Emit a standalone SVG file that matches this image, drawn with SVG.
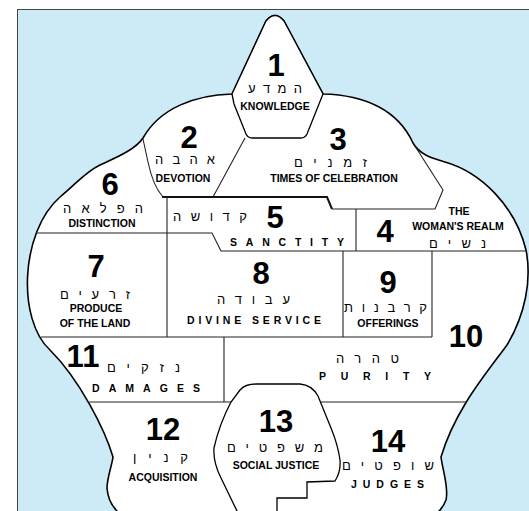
<svg xmlns="http://www.w3.org/2000/svg" width="529" height="511" viewBox="0 0 529 511">
<style>
.num{font-family:"Liberation Sans",Arial,sans-serif;font-weight:bold;font-size:31px;text-anchor:middle;fill:#000}
.lbl{font-family:"Liberation Sans",Arial,sans-serif;font-weight:bold;font-size:10.5px;text-anchor:middle;fill:#000}
.sp{font-family:"Liberation Sans",Arial,sans-serif;font-weight:bold;font-size:10.5px;fill:#000}
.heb{font-family:"Liberation Sans","DejaVu Sans",sans-serif;font-size:13px;fill:#000}
.div{fill:none;stroke:#222;stroke-width:1.1}
.bold{fill:none;stroke:#111;stroke-width:2}
.outer{fill:#fff;stroke:#000;stroke-width:1.6}
.shape{fill:#fff;stroke:#000;stroke-width:1.3}
</style>
<rect x="0" y="0" width="529" height="511" fill="#fff"/>
<rect x="17.5" y="9.5" width="530" height="520" fill="#cdebf6" stroke="#444" stroke-width="1"/>
<path class="outer" d="M117,520 L117,511 Q108,502 107,488 C107,478 112,465 113,457 C105,430 80,380 50,350 C17,320 20,232 60,197 C75,185 85,172 100,165 C115,158 135,150 143,138 C160,108 195,95 232,94 L266,21 Q275,10 284,21 L323,94 C365,95 398,110 413,143 C420,155 432,158 445,162 C480,172 515,205 526,250 C532,280 525,315 507,345 C485,375 455,410 441,457 C443,472 449,488 446,500 Q443,508 437,513 L437,520 Z"/>
<g id="connectors">
<path class="div" d="M143,139 L148,162 Q153,186 163,197"/>
<path class="div" d="M245,138 L213,197"/>
<path class="bold" d="M162,197 L327,197 L332,209"/>
<path class="div" d="M332,209 L435,209 L443,190 L413,143"/>
<path class="div" d="M36,233 L167,233"/>
<path class="div" d="M167,197 L167,337"/>
<path class="div" d="M167,233 L212,233 L221,251 L527,251"/>
<path class="div" d="M356,209 L356,251"/>
<path class="div" d="M343,251 L343,337"/>
<path class="div" d="M432,251 L432,337"/>
<path class="div" d="M41,337 L432,337"/>
<path class="div" d="M224,337 L224,402"/>
<path class="div" d="M89,402 L233,402"/>
<path class="div" d="M319,402 L466,402"/>
</g>
<g id="n1">
<path class="shape" d="M232,94 L266,21 Q275,10 284,21 L323,94 L319,104 L307,134 Q305,138 301,138 L252,138 Q248,138 246,134 L234,104 Z"/>
<text class="num" x="276" y="76">1</text>
<text class="heb" x="248" y="93" textLength="54" lengthAdjust="spacing">המדע</text>
<text class="lbl" x="275" y="110">KNOWLEDGE</text>
</g>
<g id="n2">
<text class="num" x="189" y="148">2</text>
<text class="heb" x="155" y="164" textLength="60" lengthAdjust="spacing">אהבה</text>
<text class="lbl" x="183" y="182">DEVOTION</text>
</g>
<g id="n3">
<text class="num" x="338" y="150">3</text>
<text class="heb" x="294" y="167" textLength="73" lengthAdjust="spacing">זמנים</text>
<text class="lbl" x="334" y="182">TIMES OF CELEBRATION</text>
</g>
<g id="n4">
<text class="num" x="385" y="242">4</text>
<text class="lbl" x="459" y="215">THE</text>
<text class="lbl" x="458" y="230">WOMAN'S REALM</text>
<text class="heb" x="429" y="248" textLength="57" lengthAdjust="spacing">נשים</text>
</g>
<g id="n5">
<text class="num" x="275" y="228">5</text>
<text class="heb" x="173" y="221" textLength="74" lengthAdjust="spacing">קדושה</text>
<text class="sp" x="230" y="246" textLength="114" lengthAdjust="spacing">SANCTITY</text>
</g>
<g id="n6">
<text class="num" x="110" y="195">6</text>
<text class="heb" x="63" y="213" textLength="80" lengthAdjust="spacing">הפלאה</text>
<text class="lbl" x="102" y="227">DISTINCTION</text>
</g>
<g id="n7">
<text class="num" x="96" y="277">7</text>
<text class="heb" x="60" y="299" textLength="70" lengthAdjust="spacing">זרעים</text>
<text class="lbl" x="96" y="312">PRODUCE</text>
<text class="lbl" x="95" y="327">OF THE LAND</text>
</g>
<g id="n8">
<text class="num" x="261" y="284">8</text>
<text class="heb" x="217" y="304" textLength="73" lengthAdjust="spacing">עבודה</text>
<text class="sp" x="187" y="324" textLength="134" lengthAdjust="spacing">DIVINE SERVICE</text>
</g>
<g id="n9">
<text class="num" x="388" y="293">9</text>
<text class="heb" x="344" y="312" textLength="83" lengthAdjust="spacing">קרבנות</text>
<text class="lbl" x="388" y="327">OFFERINGS</text>
</g>
<g id="n10">
<text class="num" x="466" y="347">10</text>
<text class="heb" x="336" y="363" textLength="63" lengthAdjust="spacing">טהרה</text>
<text class="sp" x="319" y="380" textLength="112" lengthAdjust="spacing">PURITY</text>
</g>
<g id="n11">
<text class="num" x="83" y="367">11</text>
<text class="heb" x="107" y="372" textLength="73" lengthAdjust="spacing">נזקים</text>
<text class="sp" x="92" y="392" textLength="108" lengthAdjust="spacing">DAMAGES</text>
</g>
<g id="n12">
<text class="num" x="163" y="440">12</text>
<text class="heb" x="133" y="462" textLength="55" lengthAdjust="spacing">קנין</text>
<text class="lbl" x="163" y="481">ACQUISITION</text>
</g>
<g id="n13">
<path class="shape" d="M277,520 L277,498 L307,498 L307,482 L335,481 Q341,472 340,460 Q338,445 331,428 L318,396 Q312,385 300,384 L256,384 Q245,384 240,390 L231,402 Q219,425 214,448 Q213,462 221,478 L237,511 L238,520 Z"/>
<text class="num" x="276" y="432">13</text>
<text class="heb" x="227" y="452" textLength="96" lengthAdjust="spacing">משפטים</text>
<text class="lbl" x="276" y="469">SOCIAL JUSTICE</text>
</g>
<g id="n14">
<text class="num" x="388" y="452">14</text>
<text class="heb" x="342" y="470" textLength="92" lengthAdjust="spacing">שופטים</text>
<text class="sp" x="351" y="488" textLength="73" lengthAdjust="spacing">JUDGES</text>
</g>
</svg>
